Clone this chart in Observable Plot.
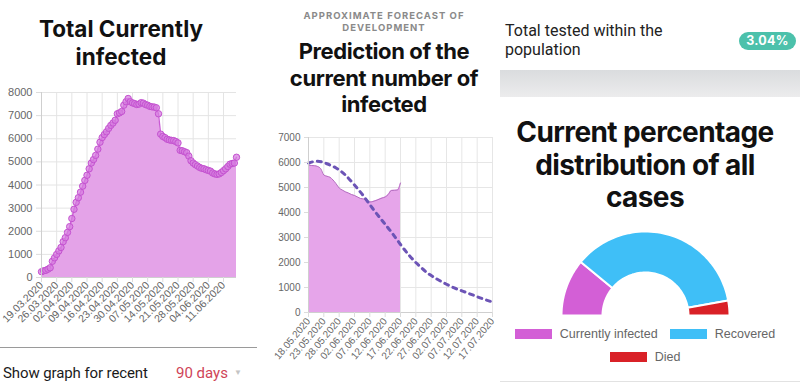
<!DOCTYPE html>
<html><head><meta charset="utf-8">
<script src="https://cdn.jsdelivr.net/npm/d3@7"></script>
<script src="https://cdn.jsdelivr.net/npm/@observablehq/plot@0.6"></script>
<style>
html,body{margin:0;padding:0;background:#fff;}
body{width:800px;height:392px;position:relative;overflow:hidden;font-family:"Liberation Sans",Arial,sans-serif;}
.abs{position:absolute;}
.title{font-family:Inter,"Noto Sans",sans-serif;font-weight:700;color:#111;text-align:center;letter-spacing:-0.4px;white-space:nowrap;}
.legrow{position:absolute;left:495px;width:300px;display:flex;justify-content:center;align-items:center;font-size:12.5px;color:#666;}
.legitem{display:flex;align-items:center;margin:0 6px;}
.legbox{width:37px;height:10px;margin-right:8px;}
</style></head><body>

<div class="abs title" style="left:0;width:242px;top:15px;font-size:22.5px;line-height:28px;letter-spacing:0px;">Total Currently<br>infected</div>
<div id="p1" class="abs" style="left:0;top:80px;"></div>
<div class="abs" style="left:0;top:347px;width:257px;height:1px;background:#9a9a9a;"></div>
<div class="abs" style="left:3px;top:364px;font-family:Roboto,'Noto Sans',sans-serif;font-size:15px;letter-spacing:-0.1px;color:#1a1a1a;white-space:nowrap;">Show graph for recent</div>
<div class="abs" style="left:176px;top:364px;font-family:Roboto,'Noto Sans',sans-serif;font-size:15px;color:#cf4458;white-space:nowrap;">90 days</div>
<div class="abs" style="left:234px;top:368px;font-size:8px;color:#c4c4c4;">&#9660;</div>

<div class="abs" style="left:284px;width:200px;top:10px;text-align:center;font-family:Inter,'Noto Sans',sans-serif;font-weight:700;font-size:9.5px;line-height:12px;letter-spacing:1px;color:#8a8a8a;">APPROXIMATE FORECAST OF<br>DEVELOPMENT</div>
<div class="abs title" style="left:284px;width:200px;top:38px;font-size:22px;line-height:26.5px;">Prediction of the<br>current number of<br>infected</div>
<div id="p2" class="abs" style="left:260px;top:125px;"></div>

<div class="abs" style="left:505px;top:22px;font-family:Roboto,'Noto Sans',sans-serif;font-size:16px;line-height:18.5px;color:#222;white-space:nowrap;">Total tested within the<br>population</div>
<div class="abs" style="left:739px;top:32px;width:57px;height:18px;border-radius:9px;background:#4cc1ab;color:#fff;font-family:Inter,'Noto Sans',sans-serif;font-weight:700;font-size:12.5px;line-height:18px;text-align:center;letter-spacing:0.3px;">3.04%</div>
<div class="abs" style="left:500px;top:70px;width:300px;height:27px;background:linear-gradient(#dadcde,#ececed);"></div>
<div class="abs title" style="left:500px;width:290px;top:116px;font-size:28px;line-height:32.5px;letter-spacing:-0.6px;">Current percentage<br>distribution of all<br>cases</div>
<div id="p3" class="abs" style="left:558.7px;top:229px;"></div>
<div id="leg1" class="legrow" style="top:327px;"></div>
<div id="leg2" class="legrow" style="top:350px;"></div>
<div class="abs" style="left:500px;top:381px;width:300px;height:1px;background:#e2e2e2;"></div>

<script>
// ---------- data ----------
const p1StartLabel = "19.03.2020";
const p1Values = [250,290,310,360,420,700,850,1000,1150,1300,1550,1720,1950,2200,2550,2950,3250,3450,3690,3950,4200,4420,4700,4950,5100,5280,5550,5850,6050,6180,6300,6450,6580,6680,6800,7080,7120,7180,7450,7600,7740,7600,7550,7520,7480,7500,7560,7540,7480,7450,7400,7380,7370,7340,7080,6200,6100,6050,5980,5950,5930,5920,5880,5820,5500,5480,5440,5400,5250,5050,4950,4880,4820,4760,4720,4700,4660,4630,4600,4520,4480,4460,4480,4540,4620,4700,4800,4900,4930,4950,5200];
const p1TickLabels = ["19.03.2020","26.03.2020","02.04.2020","09.04.2020","16.04.2020","23.04.2020","30.04.2020","07.05.2020","14.05.2020","21.05.2020","28.05.2020","04.06.2020","11.06.2020"];
const p1YTicks = [0,1000,2000,3000,4000,5000,6000,7000,8000];

const p2StartLabel = "18.05.2020";
const p2EndLabel = "17.07.2020";
const p2Actual = [5900,5880,5870,5840,5750,5500,5450,5410,5300,5150,4980,4900,4830,4780,4720,4680,4620,4560,4540,4480,4420,4440,4480,4530,4580,4620,4720,4880,4890,4900,5180];
const p2ForecastStepDays = 3;
const p2Forecast = [5980,6050,5950,5780,5500,5100,4650,4150,3680,3220,2720,2260,1880,1560,1330,1130,960,820,680,540,420];
const p2TickLabels = ["18.05.2020","23.05.2020","28.05.2020","02.06.2020","07.06.2020","12.06.2020","17.06.2020","22.06.2020","27.06.2020","02.07.2020","07.07.2020","12.07.2020","17.07.2020"];
const p2YTicks = [0,1000,2000,3000,4000,5000,6000,7000];

const donutCats = ["Currently infected","Recovered","Died"];
const donutValues = [22.0,72.3,5.7];
const donutColors = ["#d35fd6","#3fbff7","#d92127"];

// ---------- helpers ----------
const parse = d3.utcParse("%d.%m.%Y");
const fmt = d3.utcFormat("%d.%m.%Y");
const addDays = (d, n) => d3.utcDay.offset(d, n);

// ---------- panel 1 ----------
const p1Start = parse(p1StartLabel);
const p1Data = p1Values.map((v, i) => ({date: addDays(p1Start, i), value: v}));
const p1Ticks = p1TickLabels.map(parse);
const p1 = Plot.plot({
  width: 260, height: 270,
  marginLeft: 41, marginRight: 24, marginTop: 12, marginBottom: 73,
  style: {fontFamily: "Liberation Sans, Arial, sans-serif", fontSize: "11px", background: "transparent", overflow: "visible"},
  x: {type: "utc", domain: [p1Start, p1Data[p1Data.length - 1].date]},
  y: {domain: [0, 8000]},
  marks: [
    Plot.gridX(p1Ticks, {stroke: "#e4e4e4", strokeOpacity: 1}),
    Plot.gridY(p1YTicks, {stroke: "#e4e4e4", strokeOpacity: 1}),
    Plot.areaY(p1Data, {x: "date", y: "value", fill: "#e4a3e8"}),
    Plot.line(p1Data, {x: "date", y: "value", stroke: "#c95ad4", strokeWidth: 1.3}),
    Plot.dot(p1Data, {x: "date", y: "value", r: 3.2, fill: "#d77fe0", fillOpacity: 0.75, stroke: "#c452d0", strokeWidth: 1}),
    Plot.ruleY([0], {stroke: "#cfcfcf"}),
    Plot.ruleX([p1Start], {stroke: "#cfcfcf"}),
    Plot.axisX(p1Ticks, {tickFormat: fmt, tickRotate: -45, tickSize: 5, tickPadding: 1, stroke: "#dcdcdc", fill: "#666", fontSize: 10.5, label: null}),
    Plot.axisY(p1YTicks, {tickFormat: d => String(d), tickSize: 5, tickPadding: 4, stroke: "#dcdcdc", fill: "#666", fontSize: 11, label: null})
  ]
});
document.getElementById("p1").appendChild(p1);

// ---------- panel 2 ----------
const p2Start = parse(p2StartLabel);
const p2End = parse(p2EndLabel);
const p2A = p2Actual.map((v, i) => ({date: addDays(p2Start, i), value: v}));
const p2F = p2Forecast.map((v, i) => ({date: addDays(p2Start, i * p2ForecastStepDays), value: v}));
const p2Ticks = p2TickLabels.map(parse);
const p2 = Plot.plot({
  width: 240, height: 265,
  marginLeft: 48, marginRight: 8, marginTop: 12, marginBottom: 78,
  style: {fontFamily: "Liberation Sans, Arial, sans-serif", fontSize: "10px", background: "transparent", overflow: "visible"},
  x: {type: "utc", domain: [p2Start, p2End]},
  y: {domain: [0, 7000]},
  marks: [
    Plot.gridX(p2Ticks, {stroke: "#e6e6e6", strokeOpacity: 1}),
    Plot.gridY(p2YTicks, {stroke: "#e6e6e6", strokeOpacity: 1}),
    Plot.areaY(p2A, {x: "date", y: "value", fill: "#e6a5ea", curve: "monotone-x"}),
    Plot.line(p2A, {x: "date", y: "value", stroke: "#b46cc0", strokeWidth: 1, curve: "monotone-x"}),
    Plot.line(p2F, {x: "date", y: "value", stroke: "#6c54b6", strokeWidth: 3, strokeDasharray: "4,5", curve: "natural"}),
    Plot.ruleY([0], {stroke: "#cfcfcf"}),
    Plot.ruleX([p2Start], {stroke: "#cfcfcf"}),
    Plot.axisX(p2Ticks, {tickFormat: fmt, tickRotate: -50, tickSize: 5, tickPadding: 2, stroke: "#dcdcdc", fill: "#666", fontSize: 10, label: null}),
    Plot.axisY(p2YTicks, {tickFormat: d => String(d), tickSize: 4, tickPadding: 4, stroke: "#dcdcdc", fill: "#666", fontSize: 10, label: null})
  ]
});
document.getElementById("p2").appendChild(p2);

// ---------- panel 3 (half donut) ----------
const R_OUT = 84, R_IN = 43;
const total = d3.sum(donutValues);
let cum = 0;
const features = donutValues.map((v, i) => {
  const a0 = Math.PI - Math.PI * cum / total;
  cum += v;
  const a1 = Math.PI - Math.PI * cum / total;
  const n = 60, ring = [];
  for (let k = 0; k <= n; k++) { const a = a0 + (a1 - a0) * k / n; ring.push([R_OUT * Math.cos(a), R_OUT * Math.sin(a)]); }
  for (let k = n; k >= 0; k--) { const a = a0 + (a1 - a0) * k / n; ring.push([R_IN * Math.cos(a), R_IN * Math.sin(a)]); }
  ring.push(ring[0]);
  return {type: "Feature", properties: {name: donutCats[i]}, geometry: {type: "Polygon", coordinates: [ring]}};
});
const p3 = Plot.plot({
  width: 172, height: 86,
  marginLeft: 2, marginRight: 2, marginTop: 2, marginBottom: 0,
  style: {background: "transparent", overflow: "visible"},
  projection: {type: "reflect-y", domain: {type: "MultiPoint", coordinates: [[-R_OUT, 0], [R_OUT, R_OUT]]}},
  color: {domain: donutCats, range: donutColors},
  marks: [
    Plot.geo(features, {fill: d => d.properties.name, stroke: "white", strokeWidth: 2})
  ]
});
document.getElementById("p3").appendChild(p3);

// legend
function legItem(i) {
  const it = document.createElement("div"); it.className = "legitem";
  const b = document.createElement("div"); b.className = "legbox"; b.style.background = donutColors[i];
  const t = document.createElement("span"); t.textContent = donutCats[i];
  it.appendChild(b); it.appendChild(t); return it;
}
document.getElementById("leg1").appendChild(legItem(0));
document.getElementById("leg1").appendChild(legItem(1));
document.getElementById("leg2").appendChild(legItem(2));
</script>
</body></html>
